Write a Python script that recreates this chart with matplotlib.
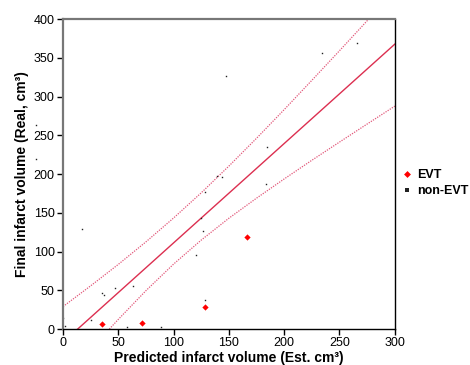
import matplotlib.pyplot as plt

# Datapunten
evt_x = [35.5, 71.6, 128.3, 166.2]
evt_y = [6, 8, 28.8, 118.7]

nonevt_x = [0, 1.5, 17.4, 25, 35.5, 37.3, 47, 63, 57.8, 89, 120, 128.3, 124.4,
            126.2, 183.6, 128.3, 147, 234, 265.6, 184.6, 139, 144, -24.7, -24.7]
nonevt_y = [14.6, 4, 128.6, 11, 46, 44, 52.5, 56, 2, 3, 95.5, 176.3, 142.8,
            126.5, 187.5, 38, 326, 356.5, 368.6, 234.8, 197.8, 196, 263, 219.7]

# Regressielijn en betrouwbaarheidsband
fit_x = [0, 300]
fit_y = [-17.1, 367.7]
band_x = [0, 25, 50, 75, 100, 125, 150, 175, 200, 225, 250, 275, 300]
band_upper = [28.9, 55.7, 83.4, 112.5, 143.3, 175.8, 210.3, 246.2, 283.2,
              321.0, 359.2, 397.9, 436.9]
band_lower = [-65.9, -26.2, 12.4, 49.5, 83.8, 114.8, 143.0, 168.9, 193.7,
              217.8, 241.3, 264.6, 287.7]

x_ticks = [0, 50, 100, 150, 200, 250, 300]
y_ticks = [0, 50, 100, 150, 200, 250, 300, 350, 400]

plt.rcParams['font.family'] = ['Liberation Sans', 'DejaVu Sans']

fig = plt.figure(figsize=(4.7, 3.65), dpi=100)
ax = fig.add_axes([0.134, 0.0986, 0.706, 0.849])

line_color = '#dc2f50'
ax.plot(fit_x, fit_y, color=line_color, lw=1.0)
ax.plot(band_x, band_upper, color='#e2587a', lw=0.9, linestyle=(0, (1, 1)))
ax.plot(band_x, band_lower, color='#e2587a', lw=0.9, linestyle=(0, (1, 1)))

ax.plot(nonevt_x, nonevt_y, 's', color='#222222', markersize=1.0, lw=0,
        markeredgewidth=0, label='non-EVT', clip_on=False)
ax.plot(evt_x, evt_y, 'D', color='#ff0000', markersize=3.2, lw=0,
        markeredgewidth=0, label='EVT')

ax.set_xlim(0, 300)
ax.set_ylim(0, 400)
ax.set_xticks(x_ticks)
ax.set_yticks(y_ticks)
ax.tick_params(direction='out', length=4, width=1, labelsize=9, colors='black',
               pad=2)

for side in ['top', 'left']:
    ax.spines[side].set_color('#777777')
    ax.spines[side].set_linewidth(1.6)
for side in ['right', 'bottom']:
    ax.spines[side].set_color('black')
    ax.spines[side].set_linewidth(1.0)

ax.set_xlabel('Predicted infarct volume (Est. cm³)', fontsize=10,
              fontweight='bold', labelpad=1)
ax.set_ylabel('Final infarct volume (Real, cm³)', fontsize=10,
              fontweight='bold', labelpad=3)

handles, labels = ax.get_legend_handles_labels()
leg = fig.legend(handles[::-1], labels[::-1], loc='center left',
                 bbox_to_anchor=(0.835, 0.498), frameon=False,
                 handlelength=0.6, handletextpad=0.5, labelspacing=0.3,
                 prop={'weight': 'bold', 'size': 9})
leg.legend_handles[0].set_markersize(3.5)
leg.legend_handles[1].set_markersize(2.5)

plt.savefig('out.png', dpi=100)
